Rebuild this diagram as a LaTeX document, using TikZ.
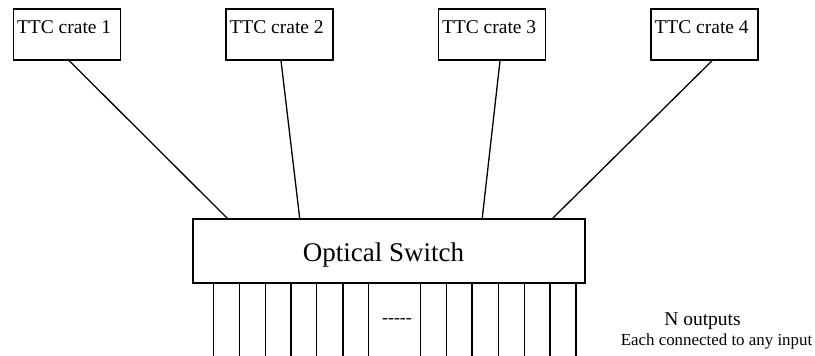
\documentclass[tikz,border=0pt]{standalone}
\usepackage{fontspec}
\setmainfont{Liberation Serif}
\usetikzlibrary{calc}
\begin{document}
\begin{tikzpicture}[x=1pt,y=-1pt,
  crate/.style={draw,line width=1.4pt,minimum width=107pt,minimum height=51pt,inner sep=0pt},
  cratetext/.style={anchor=base west,inner sep=0pt,font=\fontsize{19.5}{22}\selectfont},
  switchbox/.style={draw,line width=1.4pt,minimum width=392pt,minimum height=64pt,inner sep=0pt},
  wire/.style={line width=1.3pt},
  note/.style={anchor=base,inner sep=0pt}]
\useasboundingbox (0,0) rectangle (815,356);
% crates
\node[crate] (c1) at (67,34.5) {};
\node[crate] (c2) at (279.5,34.5) {};
\node[crate] (c3) at (492,34.5) {};
\node[crate] (c4) at (704.5,34.5) {};
\node[cratetext] (t1) at ($(c1.north west)+(4,25)$) {TTC crate 1};
\node[cratetext] (t2) at ($(c2.north west)+(4,25)$) {TTC crate 2};
\node[cratetext] (t3) at ($(c3.north west)+(4,25)$) {TTC crate 3};
\node[cratetext] (t4) at ($(c4.north west)+(4,25)$) {TTC crate 4};
% switch
\node[switchbox] (sw) at (389,251) {};
\node[note,font=\fontsize{27}{30}\selectfont] (swt) at (383.5,261) {Optical Switch};
% connections
\draw[wire] ($(c1.south west)!0.52!(c1.south east)$) -- ($(sw.north west)!0.089!(sw.north east)$);
\draw[wire] ($(c2.south west)!0.514!(c2.south east)$) -- ($(sw.north west)!0.273!(sw.north east)$);
\draw[wire] ($(c3.south west)!0.574!(c3.south east)$) -- ($(sw.north west)!0.737!(sw.north east)$);
\draw[wire] ($(c4.south west)!0.57!(c4.south east)$) -- ($(sw.north west)!0.916!(sw.north east)$);
% outputs
\foreach \x [count=\i] in {213.3,239.3,265.3,291,316.7,343,368.7,420.3,446.3,472,498.3,524.3,550,576}{
  \coordinate (o\i) at (\x,356);
  \draw[wire] (sw.south -| o\i) -- (o\i);
}
\node[inner sep=0pt,font=\fontsize{18}{20}\selectfont] (dots) at (397,321) {{-}{-}{-}{-}{-}};
\node[note,font=\fontsize{19.5}{22}\selectfont] (n1) at (702.5,325) {N outputs};
\node[note,font=\fontsize{16.9}{20}\selectfont] (n2) at (716.5,345) {Each connected to any input};
\end{tikzpicture}
\end{document}
